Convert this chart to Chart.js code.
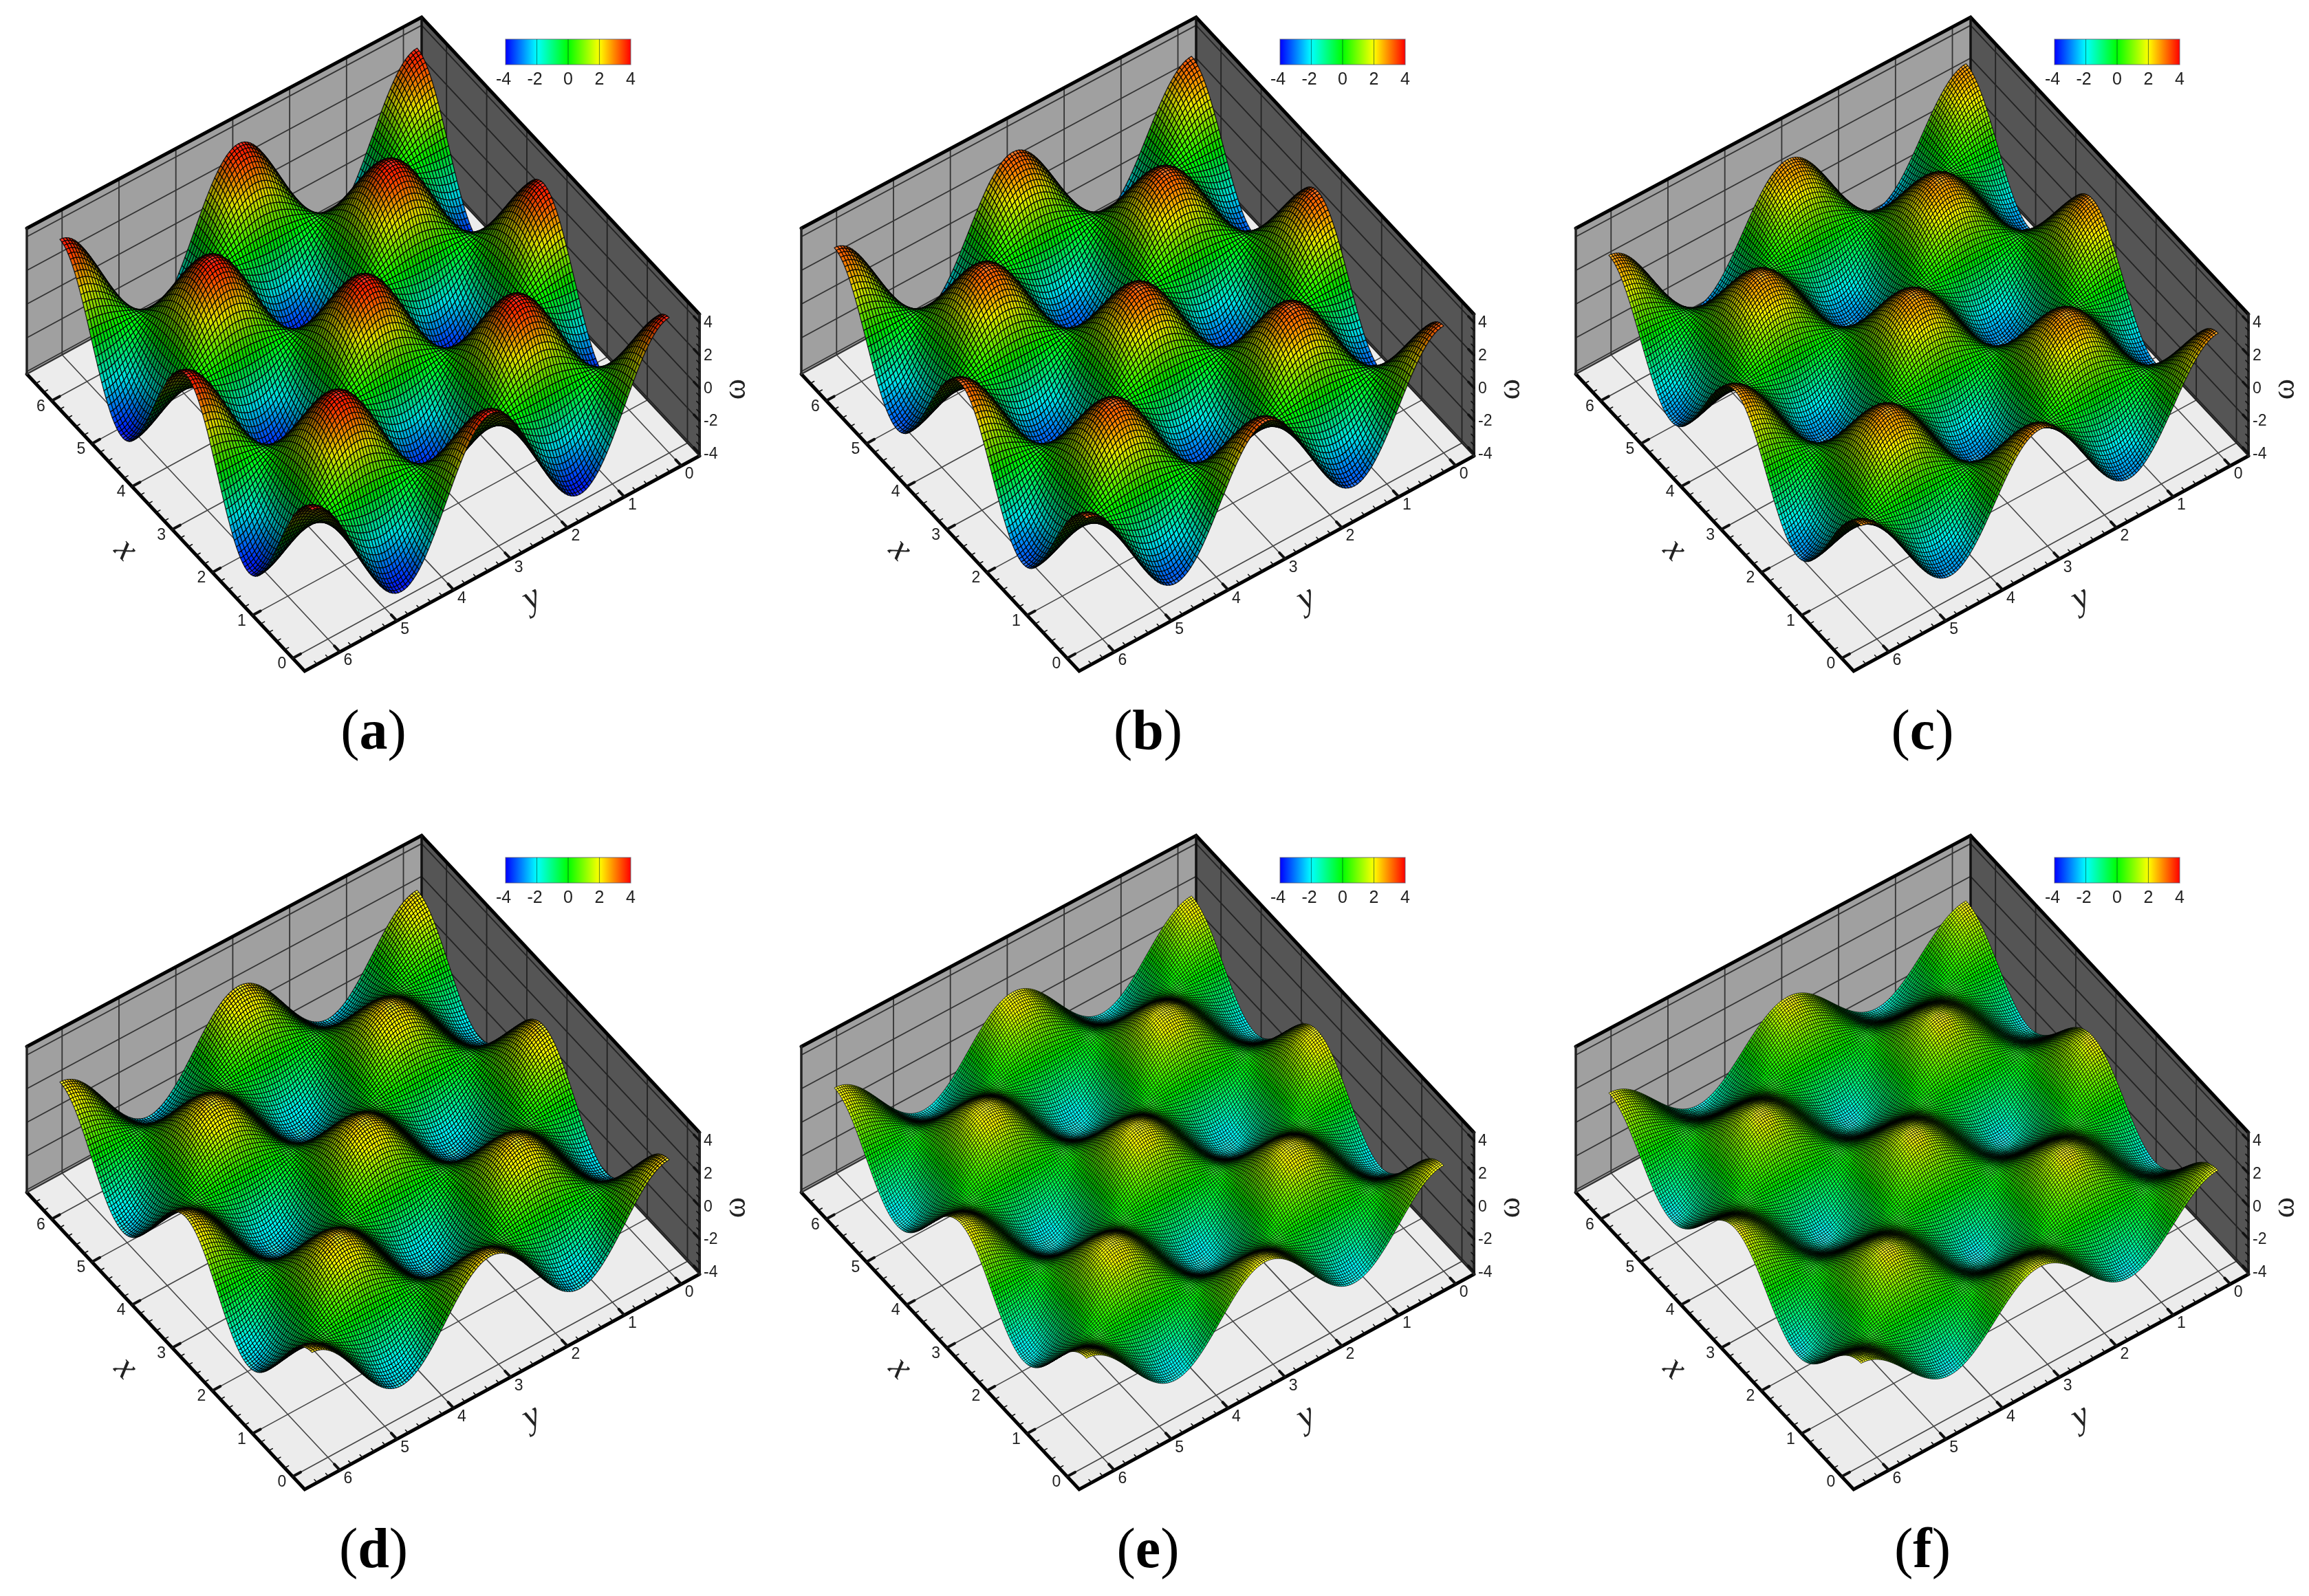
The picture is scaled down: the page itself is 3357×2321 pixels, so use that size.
<!DOCTYPE html>
<html>
<head>
<meta charset="utf-8">
<title>Vorticity surfaces</title>
<script src="https://cdn.jsdelivr.net/npm/chart.js@4"></script>
<style>
  html, body { margin: 0; background: #fff; width: 3357px; height: 2321px; overflow: hidden; }
  .panel { position: absolute; width: 1126px; height: 1190px; }
  .panel canvas { position: absolute; left: 0; top: 0; filter: blur(0.5px); }
  .caption { position: absolute; left: 443px; width: 200px; top: 1017px; text-align: center;
    font: 82px "Liberation Serif", serif; color: #000; line-height: 90px; }
</style>
</head>
<body>
<div id="page"></div>
<script>
const panelNames = ['a', 'b', 'c', 'd', 'e', 'f'];
// highest omega read on each panel (back corner peak against the omega axis)
const peakOmega = [3.9, 3.4, 2.95, 2.45, 2.1, 1.8];
const meshCells = [120, 120, 144, 144, 168, 168];

// wave shape along the surface edges at the mesh nodes, crest (1) down to just before the trough (-1)
const halfWave120 = [
  1, .9945, .9781, .9511, .9135, .866, .809, .7431, .6691, .5878, .5, .4067, .309, .2079, .1045,
  0, -.1045, -.2079, -.309, -.4067, -.5, -.5878, -.6691, -.7431, -.809, -.866, -.9135, -.9511, -.9781, -.9945];
const halfWave144 = [
  1, .9962, .9848, .9659, .9397, .9063, .866, .8192, .766, .7071, .6428, .5736, .5, .4226, .342, .2588, .1736, .0872,
  0, -.0872, -.1736, -.2588, -.342, -.4226, -.5, -.5736, -.6428, -.7071, -.766, -.8192, -.866, -.9063, -.9397, -.9659, -.9848, -.9962];
const halfWave168 = [
  1, .9972, .9888, .9749, .9556, .9309, .901, .866, .8262, .7818, .7331, .6802, .6235, .5633, .5, .4339, .3653, .2948, .2225, .149, .0747,
  0, -.0747, -.149, -.2225, -.2948, -.3653, -.4339, -.5, -.5633, -.6235, -.6802, -.7331, -.7818, -.8262, -.866, -.901, -.9309, -.9556, -.9749, -.9888, -.9972];
const halfWaves = { 120: halfWave120, 144: halfWave144, 168: halfWave168 };

const xTicks = [0, 1, 2, 3, 4, 5, 6];
const yTicks = [0, 1, 2, 3, 4, 5, 6];
const omegaTicks = [-4, -2, 0, 2, 4];
const surfaceSpan = 6.28;

const xRange = [-0.3, 6.62];
const yRange = [-0.32, 6.62];
const omegaRange = [-4.15, 4.5];
// the surface sits a little above where the axis box puts it in the picture
const surfaceLift = 0.2;

// colour scale of the legend: omega value, r, g, b
const colourStops = [
  [-4, 0, 0, 255],
  [-2, 0, 255, 255],
  [0, 0, 255, 0],
  [2, 255, 255, 0],
  [4, 255, 0, 0],
];

// box in canvas pixels
const floorRight = [1017, 663];
const floorBack = [613, 231];
const floorFront = [443, 976];
const floorLeft = [39, 544];
const boxHeights = { right: 206, back: 206, front: 210, left: 212 };

const canvasW = 1126;
const canvasH = 1190;

function project(x, y, w) {
  const u = (x - xRange[0]) / (xRange[1] - xRange[0]);
  const v = (y - yRange[0]) / (yRange[1] - yRange[0]);
  const t = (w - omegaRange[0]) / (omegaRange[1] - omegaRange[0]);
  const mix = (a, b, c, d) => (1 - u) * (1 - v) * a + u * (1 - v) * b + (1 - u) * v * c + u * v * d;
  const px = mix(floorRight[0], floorBack[0], floorFront[0], floorLeft[0]);
  const py = mix(floorRight[1], floorBack[1], floorFront[1], floorLeft[1]);
  const h = mix(boxHeights.right, boxHeights.back, boxHeights.front, boxHeights.left);
  return { x: px, y: py - t * h };
}

function lineSet(points, color, width, fillColor) {
  return {
    data: points.map((p) => project(p[0], p[1], p[2])),
    showLine: true,
    borderColor: color,
    borderWidth: width,
    pointRadius: 0,
    tension: 0,
    fill: fillColor ? 'shape' : false,
    backgroundColor: fillColor || 'transparent',
    borderCapStyle: 'round',
    clip: false,
  };
}

function omegaColour(w) {
  const s = colourStops;
  if (w <= s[0][0]) return s[0].slice(1);
  for (let i = 1; i < s.length; i++) {
    if (w <= s[i][0]) {
      const t = (w - s[i - 1][0]) / (s[i][0] - s[i - 1][0]);
      return [1, 2, 3].map((k) => s[i - 1][k] + t * (s[i][k] - s[i - 1][k]));
    }
  }
  return s[s.length - 1].slice(1);
}

function boxDatasets() {
  const [x0, x1] = xRange;
  const [y0, y1] = yRange;
  const [w0, w1] = omegaRange;
  const sets = [];
  // walls and floor
  sets.push(lineSet([[x1, y0, w0], [x1, y1, w0], [x1, y1, w1], [x1, y0, w1], [x1, y0, w0]], '#333', 1, '#a0a0a0'));
  sets.push(lineSet([[x1, y0, w0], [x0, y0, w0], [x0, y0, w1], [x1, y0, w1], [x1, y0, w0]], '#333', 1, '#555555'));
  sets.push(lineSet([[x0, y0, w0], [x1, y0, w0], [x1, y1, w0], [x0, y1, w0], [x0, y0, w0]], '#333', 1, '#ececec'));
  // grid lines
  xTicks.forEach((x) => {
    sets.push(lineSet([[x, y0, w0], [x, y1, w0]], '#444', 1.6));
    sets.push(lineSet([[x, y0, w0], [x, y0, w1]], '#222', 1.8));
  });
  yTicks.forEach((y) => {
    sets.push(lineSet([[x0, y, w0], [x1, y, w0]], '#444', 1.6));
    sets.push(lineSet([[x1, y, w0], [x1, y, w1]], '#333', 1.8));
  });
  omegaTicks.forEach((w) => {
    sets.push(lineSet([[x1, y0, w], [x1, y1, w]], '#333', 1.8));
    sets.push(lineSet([[x1, y0, w], [x0, y0, w]], '#222', 1.8));
  });
  // box edges
  sets.push(lineSet([[x1, y1, w0], [x0, y1, w0], [x0, y0, w0]], '#000', 5));
  sets.push(lineSet([[x1, y1, w1], [x1, y0, w1], [x0, y0, w1]], '#000', 5));
  sets.push(lineSet([[x1, y1, w0], [x1, y1, w1]], '#222', 3.5));
  sets.push(lineSet([[x1, y0, w0], [x1, y0, w1]], '#111', 3.5));
  sets.push(lineSet([[x0, y0, w0], [x0, y0, w1]], '#222', 4));
  sets.push(lineSet([[x1, y1, w0], [x1, y0, w0]], '#333', 2.2));
  sets.push(lineSet([[x1, y0, w0], [x0, y0, w0]], '#222', 2.2));
  // axis ticks, 4 minor steps between integers on x and y, 3 on omega
  for (let k = 0; k <= 33; k++) {
    const val = k * 0.2;
    if (val > 6.6) break;
    const major = k % 5 === 0;
    const len = major ? 0.14 : 0.07;
    const lw = major ? 4 : 1.6;
    sets.push(lineSet([[val, y1, w0], [val, y1 - len, w0]], '#111', lw));
    sets.push(lineSet([[x0, val, w0], [x0 + len, val, w0]], '#111', lw));
  }
  for (let k = 0; k <= 17; k++) {
    const val = -4 + k * 0.5;
    if (val > omegaRange[1]) break;
    const major = k % 4 === 0;
    const len = major ? 0.14 : 0.07;
    sets.push(lineSet([[x0, y0, val], [x0 + len, y0, val]], '#111', major ? 3.5 : 1.6));
  }
  return sets;
}

function surfaceDataset(panel) {
  const cells = meshCells[panel];
  const down = halfWaves[cells];
  const up = down.map((v) => -v);
  const profile = [...down, ...up, ...down, ...up, 1];
  const peak = peakOmega[panel];
  const step = surfaceSpan / cells;
  const nodes = [];
  const points = [];
  for (let i = 0; i <= cells; i++) {
    for (let j = 0; j <= cells; j++) {
      const w = peak * profile[i] * profile[j];
      nodes.push(w);
      points.push(project(i * step, j * step, w + surfaceLift));
    }
  }
  return { surface: true, cells, step, nodes, data: points, showLine: false, pointRadius: 0 };
}

// world axes per data unit: right, down, toward the viewer
const axisX = [-58.5, -62.5, -50.7];
const axisY = [-83, 45, 36.7];
const axisW = [0, -24, 29.3];
const lightDir = [0.15, -0.25, 0.95];
const upDir = [0, -0.634, 0.773];

function shadeCell(dwdx, dwdy) {
  const tx = axisX.map((a, k) => a + dwdx * axisW[k]);
  const ty = axisY.map((a, k) => a + dwdy * axisW[k]);
  const n = [
    tx[1] * ty[2] - tx[2] * ty[1],
    tx[2] * ty[0] - tx[0] * ty[2],
    tx[0] * ty[1] - tx[1] * ty[0],
  ];
  const len = Math.hypot(n[0], n[1], n[2]);
  let up = (n[0] * upDir[0] + n[1] * upDir[1] + n[2] * upDir[2]) / len;
  const sign = up < 0 ? -1 : 1;
  up *= sign;
  const lit = Math.abs(n[0] * lightDir[0] + n[1] * lightDir[1] + n[2] * lightDir[2]) / len;
  const facing = sign * n[2] / len;
  return { diffuse: 0.25 + 0.85 * lit, spec: facing > 0 ? 0.2 * Math.pow(up, 14) : 0 };
}

const surfacePlugin = {
  id: 'surface',
  afterDatasetsDraw(chart) {
    const ctx = chart.ctx;
    chart.data.datasets.forEach((ds, index) => {
      if (!ds.surface) return;
      const pts = chart.getDatasetMeta(index).data;
      const n = ds.cells + 1;
      ctx.save();
      ctx.lineJoin = 'round';
      ctx.lineWidth = 150 / ds.cells;
      ctx.strokeStyle = 'rgba(0,0,0,0.85)';
      // back corner first: high x, low y
      for (let i = ds.cells - 1; i >= 0; i--) {
        for (let j = 0; j < ds.cells; j++) {
          const a = i * n + j;
          const b = (i + 1) * n + j;
          const c = (i + 1) * n + j + 1;
          const d = i * n + j + 1;
          const wa = ds.nodes[a];
          const wb = ds.nodes[b];
          const wc = ds.nodes[c];
          const wd = ds.nodes[d];
          const dwdx = (wb + wc - wa - wd) / (2 * ds.step);
          const dwdy = (wd + wc - wa - wb) / (2 * ds.step);
          const shade = shadeCell(dwdx, dwdy);
          const rgb = omegaColour((wa + wb + wc + wd) / 4).map((v) =>
            Math.min(255, Math.round(v * shade.diffuse + 255 * shade.spec)));
          ctx.fillStyle = `rgb(${rgb[0]},${rgb[1]},${rgb[2]})`;
          ctx.beginPath();
          ctx.moveTo(pts[a].x, pts[a].y);
          ctx.lineTo(pts[b].x, pts[b].y);
          ctx.lineTo(pts[c].x, pts[c].y);
          ctx.lineTo(pts[d].x, pts[d].y);
          ctx.closePath();
          ctx.fill();
          ctx.stroke();
        }
      }
      ctx.restore();
    });
  },
};

const labelPlugin = {
  id: 'axisText',
  afterDraw(chart) {
    const ctx = chart.ctx;
    const sx = chart.scales.x;
    const sy = chart.scales.y;
    const put = (p, text, font, angle, align) => {
      ctx.save();
      ctx.translate(sx.getPixelForValue(p.x), sy.getPixelForValue(p.y));
      ctx.rotate(angle || 0);
      ctx.font = font;
      ctx.fillStyle = '#222';
      ctx.textAlign = align || 'center';
      ctx.textBaseline = 'middle';
      ctx.fillText(text, 0, 0);
      ctx.restore();
    };
    const tickFont = '23px "Liberation Sans", Arial, sans-serif';
    xTicks.forEach((x) => put(project(x, yRange[1] + 0.19, omegaRange[0]), String(x), tickFont));
    yTicks.forEach((y) => put(project(xRange[0] - 0.2, y, omegaRange[0]), String(y), tickFont));
    omegaTicks.forEach((w) => {
      const p = project(xRange[0], yRange[0], w);
      put({ x: p.x + 6, y: p.y + 1 }, String(w), tickFont, 0, 'left');
    });
    put({ x: 182, y: 800 }, 'x', 'italic 52px "Liberation Serif", serif', 0.8);
    put({ x: 773, y: 871 }, 'y', 'italic 52px "Liberation Serif", serif', -0.5);
    put({ x: 1071, y: 566 }, 'ω', '46px "Liberation Serif", serif', -Math.PI / 2);

    // legend bar
    const barL = 735;
    const barR = 917;
    const barT = 57;
    const barB = 94;
    const barX = (w) => barL + ((w + 4) / 8) * (barR - barL);
    const grad = ctx.createLinearGradient(sx.getPixelForValue(barL), 0, sx.getPixelForValue(barR), 0);
    colourStops.forEach((s) => {
      grad.addColorStop((s[0] + 4) / 8, `rgb(${s[1]},${s[2]},${s[3]})`);
    });
    ctx.fillStyle = grad;
    ctx.fillRect(sx.getPixelForValue(barL), sy.getPixelForValue(barT), barR - barL, barB - barT);
    ctx.strokeStyle = 'rgba(90,90,110,0.7)';
    ctx.lineWidth = 1.2;
    ctx.strokeRect(sx.getPixelForValue(barL), sy.getPixelForValue(barT), barR - barL, barB - barT);
    omegaTicks.forEach((w) => {
      if (w > -4 && w < 4) {
        ctx.beginPath();
        ctx.moveTo(sx.getPixelForValue(barX(w)), sy.getPixelForValue(barT));
        ctx.lineTo(sx.getPixelForValue(barX(w)), sy.getPixelForValue(barB));
        ctx.strokeStyle = 'rgba(0,60,40,0.55)';
        ctx.stroke();
      }
      put({ x: barX(w) - (w < 0 ? 3 : 0), y: 116 }, String(w), '25px "Liberation Sans", Arial, sans-serif');
    });
  },
};

const page = document.getElementById('page');
panelNames.forEach((name, panel) => {
  const box = document.createElement('div');
  box.className = 'panel';
  box.style.left = (panel % 3) * 1126 + 'px';
  box.style.top = Math.floor(panel / 3) * 1190 + 'px';
  const canvas = document.createElement('canvas');
  canvas.width = canvasW;
  canvas.height = canvasH;
  canvas.style.width = canvasW + 'px';
  canvas.style.height = canvasH + 'px';
  box.appendChild(canvas);
  const cap = document.createElement('div');
  cap.className = 'caption';
  cap.innerHTML = `(<b>${name}</b>)`;
  box.appendChild(cap);
  page.appendChild(box);

  // first dataset is drawn last by Chart.js, so the box list goes in reversed
  const datasets = boxDatasets().reverse();
  datasets.unshift(surfaceDataset(panel));

  new Chart(canvas.getContext('2d'), {
    type: 'scatter',
    data: { datasets },
    options: {
      responsive: false,
      animation: false,
      events: [],
      layout: { padding: 0 },
      plugins: { legend: { display: false }, title: { display: false }, tooltip: { enabled: false } },
      scales: {
        x: { type: 'linear', display: false, min: 0, max: canvasW },
        y: { type: 'linear', display: false, min: 0, max: canvasH, reverse: true },
      },
    },
    plugins: [surfacePlugin, labelPlugin],
  });
});
</script>
</body>
</html>
